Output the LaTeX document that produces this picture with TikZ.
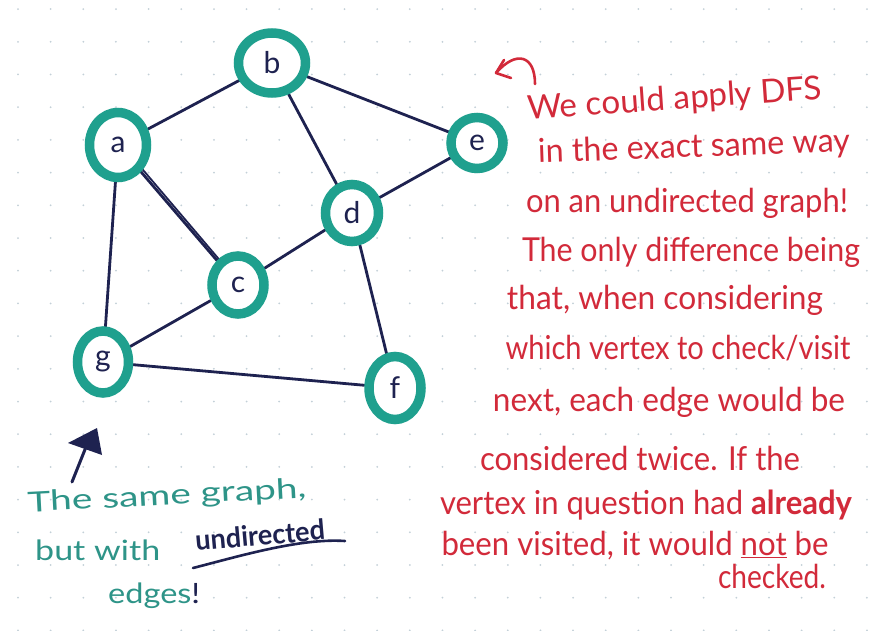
\documentclass[tikz,border=0pt]{standalone}
\usepackage{fontspec}
\setmainfont{Lato}
\usetikzlibrary{shapes.geometric,arrows.meta,calc}
\definecolor{tealc}{HTML}{1FA08E}
\definecolor{navy}{HTML}{1E2250}
\definecolor{redt}{HTML}{D22A3A}
\definecolor{tealt}{HTML}{2E9488}
\definecolor{dotc}{HTML}{C3D0D8}
\pgfdeclarelayer{bg}
\pgfsetlayers{bg,main}
\newcommand\fitw[2]{\resizebox{#1pt}{\height}{#2}}
\begin{document}
\begin{tikzpicture}[x=1pt,y=-1pt,
  vtx/.style={ellipse, draw=tealc, line width=9.5pt, fill=white, inner sep=0pt,
    text=navy, font=\fontsize{30}{32}\selectfont},
  edge/.style={draw=navy, line width=2.8pt, line cap=round},
  redtxt/.style={text=redt, font=\fontsize{33}{35}\selectfont, inner sep=0pt},
  tealtxt/.style={text=tealt, font=\fontsize{28}{30}\selectfont, inner sep=0pt},
  redline/.style={draw=redt, line width=2.6pt, line cap=round, line join=round}
]
\useasboundingbox (0,0) rectangle (880,631);
\begin{pgfonlayer}{bg}
  \fill[white] (0,0) rectangle (880,631);
  \foreach \i in {0,...,26}
    \foreach \j in {0,...,19}
      \fill[dotc] ({18+32.65*\i},{9.1+32.7*\j}) circle (1pt);
\end{pgfonlayer}

% vertices
\node[vtx, minimum width=67pt, minimum height=60pt] (b) at (272,63) {b};
\node[vtx, minimum width=57pt, minimum height=65pt] (a) at (118,145) {a};
\node[vtx, minimum width=52pt, minimum height=51pt] (e) at (477,143) {e};
\node[vtx, minimum width=53pt, minimum height=57pt] (d) at (352,213) {d};
\node[vtx, minimum width=52pt, minimum height=58pt] (c) at (238,285) {c};
\node[vtx, minimum width=51pt, minimum height=62pt] (g) at (103,362) {g};
\node[vtx, minimum width=52pt, minimum height=63pt] (f) at (395,388) {f};

% edges
\begin{pgfonlayer}{bg}
  \draw[edge] (a) -- (b);
  \draw[edge] (b) -- (e);
  \draw[edge] (b) -- (d);
  \draw[edge] (e) -- (d);
  \draw[edge] (a) -- (c);
  \draw[edge, line width=1.8pt] ($(a)+(3,-1)$) -- ($(c)+(2,-1)$);
  \draw[edge] (a) -- (g);
  \draw[edge] (c) -- (d);
  \draw[edge] (c) -- (g);
  \draw[edge] (g) -- (f);
  \draw[edge] (d) -- (f);
\end{pgfonlayer}

% red hook arrow
\coordinate (hs) at (535,84);
\coordinate (ht) at (496,73);
\draw[redline] (hs) .. controls (535,55) and (516,50) .. (ht);
\draw[redline] (504,60) -- (ht) -- (511,78);

% red text
\node[redtxt, rotate=4] (r1) at (675,100) {\fitw{295}{We could apply DFS}};
\node[redtxt, rotate=2] (r2) at (694,148) {\fitw{312}{in the exact same way}};
\node[redtxt] (r3) at (687,203) {\fitw{322}{on an undirected graph!}};
\node[redtxt] (r4) at (691,252) {\fitw{338}{The only difference being}};
\node[redtxt] (r5) at (665,300) {\fitw{316}{that, when considering}};
\node[redtxt] (r6) at (678,348) {\fitw{345}{which vertex to check/visit}};
\node[redtxt] (r7) at (669,402) {\fitw{352}{next, each edge would be}};
\node[redtxt] (r8) at (640,458) {\fitw{320}{considered twice. If the}};
\node[redtxt] (r9) at (646,505) {\fitw{412}{vertex in question had \textbf{already}}};
\node[redtxt] (r10) at (635,546) {\fitw{387}{been visited, it would \underline{not} be}};
\node[redtxt] (r11) at (772,576) {\fitw{108}{checked.}};

% navy arrow
\coordinate (as) at (72,482);
\coordinate (ab) at (86,447);
\coordinate (at) at (97,428);
\draw[navy, line width=3pt, line cap=round] (as) -- (ab);
\fill[navy] (68,443) -- (at) -- (102,455) -- cycle;

% teal text
\node[tealtxt, rotate=3] (t1) at (167,497) {\fitw{279}{The same graph,}};
\node[tealtxt, anchor=base west] (t2) at (35,560) {\fitw{125}{but with}};
\node[tealtxt, anchor=base west, text=navy, rotate=5] (t3) at (196,551) {\fitw{130}{\textbf{undirected}}};
\node[tealtxt, anchor=base west] (t4) at (108,603) {\fitw{92}{edges\textcolor{navy}{!}}};
\coordinate (us) at (193,568);
\coordinate (ue) at (345,541);
\draw[navy, line width=2.6pt, line cap=round] (us) .. controls (240,556) and (300,538) .. (ue);
\end{tikzpicture}
\end{document}
